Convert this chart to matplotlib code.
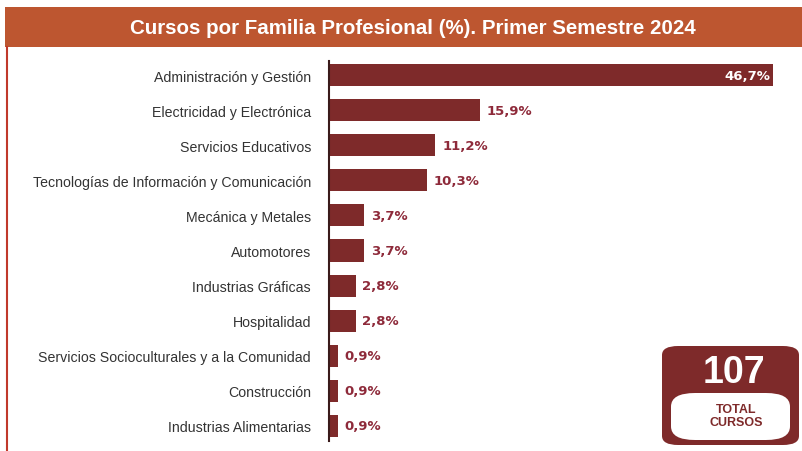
import matplotlib.pyplot as plt
from matplotlib.patches import Rectangle, FancyBboxPatch

plt.rcParams['font.family'] = ['Liberation Sans', 'DejaVu Sans']

# datos
categorias = ["Administración y Gestión", "Electricidad y Electrónica", "Servicios Educativos",
              "Tecnologías de Información y Comunicación", "Mecánica y Metales", "Automotores",
              "Industrias Gráficas", "Hospitalidad", "Servicios Socioculturales y a la Comunidad",
              "Construcción", "Industrias Alimentarias"]
porcentajes = [46.7, 15.9, 11.2, 10.3, 3.7, 3.7, 2.8, 2.8, 0.9, 0.9, 0.9]
etiquetas = ["46,7%", "15,9%", "11,2%", "10,3%", "3,7%", "3,7%", "2,8%", "2,8%", "0,9%", "0,9%", "0,9%"]
total = "107"

barra = "#7E2A2A"
granate = "#8E2A3A"
naranja = "#BD5630"

W, H = 803, 452
fig = plt.figure(figsize=(W / 100, H / 100), dpi=100)
fig.patch.set_facecolor("white")

# cabecera
fig.patches.append(Rectangle((5 / W, 1 - 48 / H), 798 / W, 40 / H, transform=fig.transFigure,
                             facecolor=naranja, edgecolor="none"))
fig.text(413 / W, 1 - 28 / H, "Cursos por Familia Profesional (%). Primer Semestre 2024",
         ha="center", va="center", color="white", fontsize=14.8, fontweight="bold")
# borde izquierdo
fig.add_artist(plt.Line2D([7 / W, 7 / W], [0, 1 - 48 / H], transform=fig.transFigure,
                          color="#C0392B", lw=1.5))

ax = fig.add_axes([329 / W, 1 - 442 / H, 461 / W, 380 / H])
y = list(range(len(categorias)))
ax.barh(y, porcentajes, height=0.63, color=barra)
ax.set_ylim(10.43, -0.4)
ax.set_xlim(0, 48.5)
ax.set_yticks(y)
ax.set_yticklabels(categorias, fontsize=10.2, color="#333333")
ax.tick_params(axis="y", length=0, pad=13)
ax.set_xticks([])
for s in ["top", "right", "bottom"]:
    ax.spines[s].set_visible(False)
ax.spines["left"].set_color("#3a1a1a")
ax.spines["left"].set_linewidth(1.5)

for i, (v, t) in enumerate(zip(porcentajes, etiquetas)):
    if i == 0:
        ax.text(v - 0.3, i, t, ha="right", va="center", color="white", fontsize=9.5,
                fontweight="bold", family="DejaVu Sans")
    else:
        ax.text(v + 0.7, i, t, ha="left", va="center", color=granate, fontsize=9.5,
                fontweight="bold", family="DejaVu Sans")

# recuadro total
fig.patches.append(FancyBboxPatch((662 / W, 1 - 446 / H), 137 / W, 99 / H,
                                  boxstyle="round,pad=0,rounding_size=0.02", transform=fig.transFigure,
                                  facecolor=barra, edgecolor="none"))
fig.patches.append(FancyBboxPatch((671 / W, 1 - 441 / H), 119 / W, 47 / H,
                                  boxstyle="round,pad=0,rounding_size=0.03", transform=fig.transFigure,
                                  facecolor="white", edgecolor="none"))
fig.text(734 / W, 1 - 373 / H, total, ha="center", va="center", color="white",
         fontsize=27, fontweight="bold")
fig.text(736 / W, 1 - 410 / H, "TOTAL", ha="center", va="center", color=barra,
         fontsize=9, fontweight="bold")
fig.text(736 / W, 1 - 423 / H, "CURSOS", ha="center", va="center", color=barra,
         fontsize=9, fontweight="bold")

fig.savefig("out.png", dpi=100)
